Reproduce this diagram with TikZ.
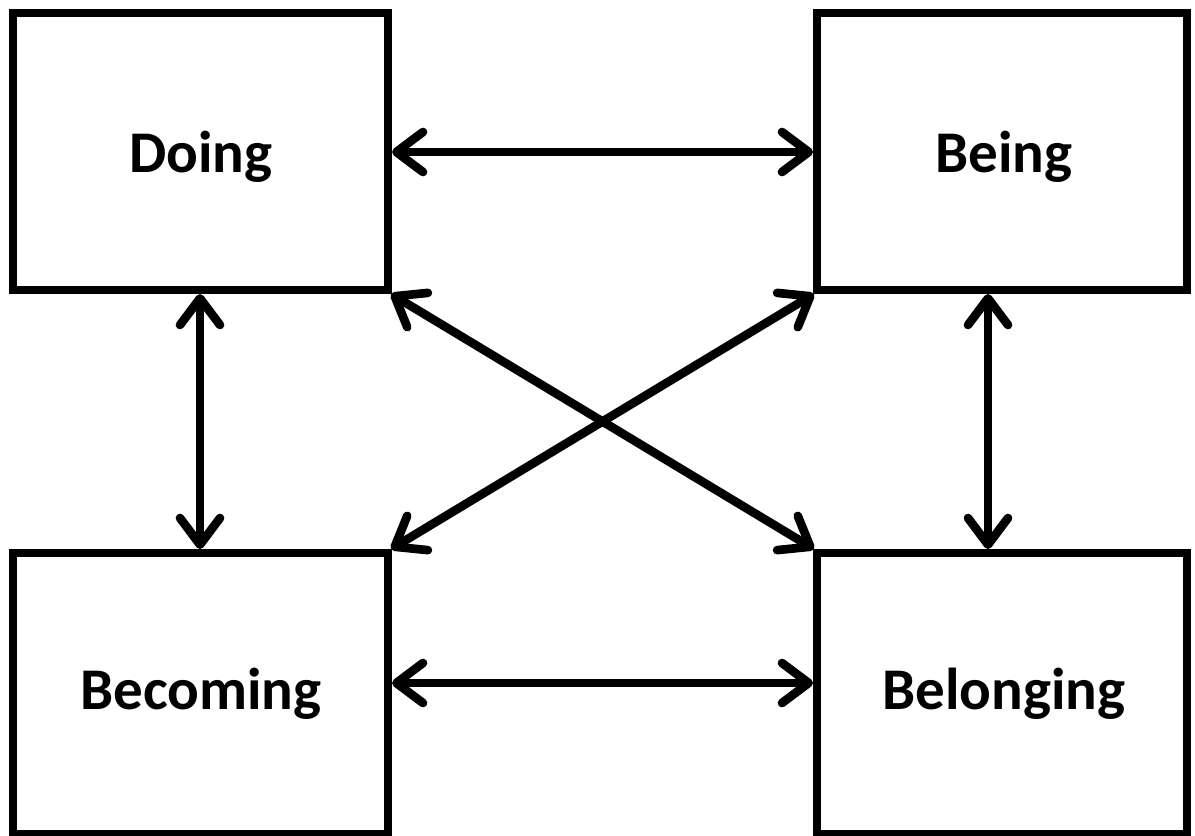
\documentclass[tikz,border=0pt]{standalone}
\usepackage{fontspec}
\setmainfont{Carlito}
\usetikzlibrary{arrows.meta}
\begin{document}
\begin{tikzpicture}[x=0.75pt,y=-0.75pt,
  boxstyle/.style={draw=black, line width=6pt},
  lbl/.style={font=\bfseries\fontsize{44.3}{50}\selectfont, anchor=center},
  link/.style={line width=6.5pt, {Straight Barb[length=20pt,width=30pt,round]}-{Straight Barb[length=20pt,width=30pt,round]}}]
\clip (0,0) rectangle (1195,835);
\useasboundingbox (0,0) rectangle (1195,835);
\draw[boxstyle] (13,13) rectangle (388,290);
\draw[boxstyle] (817,13) rectangle (1187,290);
\draw[boxstyle] (13,553) rectangle (388,834);
\draw[boxstyle] (817,553) rectangle (1187,834);
\node[lbl] (doing) at (201,157) {Doing};
\node[lbl] (being) at (1004,157) {Being};
\node[lbl] (becoming) at (201,694) {Becoming};
\node[lbl] (belonging) at (1004,694) {Belonging};
\coordinate (dR) at (392,152);
\coordinate (bL) at (813,152);
\coordinate (cR) at (392,683);
\coordinate (gL) at (813,683);
\coordinate (dB) at (200,294);
\coordinate (cT) at (200,549);
\coordinate (bB) at (988,294);
\coordinate (gT) at (988,549);
\coordinate (dC) at (391,294);
\coordinate (gC) at (814,549);
\coordinate (bC) at (814,294);
\coordinate (cC) at (391,549);
\draw[link] (dR) -- (bL);
\draw[link] (cR) -- (gL);
\draw[link] (dB) -- (cT);
\draw[link] (bB) -- (gT);
\draw[link] (dC) -- (gC);
\draw[link] (bC) -- (cC);
\end{tikzpicture}
\end{document}
